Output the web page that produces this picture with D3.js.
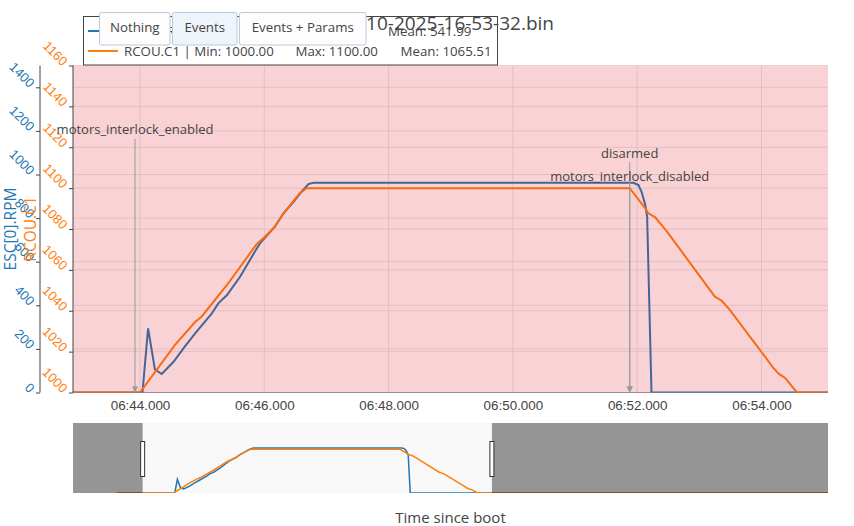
<!DOCTYPE html>
<html><head><meta charset="utf-8">
<script src="https://cdn.jsdelivr.net/npm/d3@7"></script>
<style>body{margin:0;background:#fff}svg{display:block;font-family:"Open Sans",verdana,arial,sans-serif}</style>
</head><body><svg id="c" width="854" height="526"></svg>
<script>
// ---- data (time since boot in seconds) ----
const escTime = [402.02, 404.04, 404.13, 404.24, 404.35, 404.54, 404.72, 404.91, 405.15, 405.26, 405.40, 405.61, 405.80, 405.93, 406.17, 406.31, 406.47, 406.60, 406.71, 406.79, 411.94, 412.02, 412.07, 412.13, 412.16, 412.23, 426.76];
const escRpm  = [0, 0, 294, 106, 85, 141, 210, 279, 360, 409, 447, 531, 623, 684, 761, 822, 875, 921, 956, 962, 962, 952, 921, 860, 806, 0, 0];
const rcouTime = [402.02, 404.00, 404.56, 404.89, 404.99, 405.40, 405.88, 405.98, 406.17, 406.31, 406.57, 406.68, 411.88, 412.13, 412.18, 412.29, 412.48, 413.25, 413.36, 413.49, 414.06, 414.19, 414.28, 414.38, 414.57, 426.76];
const rcouVal  = [1000, 1000, 1023.2, 1034.6, 1037.1, 1052.6, 1072.7, 1075.4, 1081.1, 1087.7, 1097.5, 1100, 1100, 1090.1, 1087.7, 1085.7, 1078.7, 1046.9, 1044.9, 1040.4, 1017.4, 1012.0, 1009.1, 1007.1, 1000, 1000];
const xTicks = [404, 406, 408, 410, 412, 414];
const rpmTicks = [0, 200, 400, 600, 800, 1000, 1200, 1400];
const rcouTicks = [1000, 1020, 1040, 1060, 1080, 1100, 1120, 1140, 1160];
const eventTimes = [403.92, 411.88, 411.88];
const eventLabels = ["motors_interlock_enabled", "disarmed", "motors_interlock_disabled"];
const legendNames = ["ESC[0].RPM", "RCOU.C1"];
const legendMin = ["0.00", "1000.00"];
const legendMax = ["962.00", "1100.00"];
const legendMean = ["541.99", "1065.51"];
const buttonLabels = ["Nothing", "Events", "Events + Params"];
const titleText = "24-10-2025-16-53-32.bin";
const viewRange = [402.922, 415.07];
const fullRange = [400.5, 426.76];

// ---- layout ----
const svg = d3.select("#c");
const P = {l: 73, r: 828, t: 65.5, b: 392.5};
const S = {t: 423, b: 493};
const blue = "#1f77b4", orange = "#ff7f0e";

const x = d3.scaleLinear().domain(viewRange).range([P.l, P.r]);
const yR = d3.scaleLinear().domain([0, 1500]).range([P.b, P.t]);
const yC = d3.scaleLinear().domain([1000, 1160]).range([P.b, P.t]);
const fmt = t => { const m = Math.floor(t/60); const s = t - m*60; return String(m).padStart(2,"0") + ":" + s.toFixed(3).padStart(6,"0"); };

svg.append("defs").append("clipPath").attr("id","pc").append("rect")
  .attr("x",P.l).attr("y",P.t).attr("width",P.r-P.l).attr("height",P.b-P.t);
svg.select("defs").append("clipPath").attr("id","sc").append("rect")
  .attr("x",P.l).attr("y",S.t).attr("width",P.r-P.l).attr("height",S.b-S.t);

// grid
const g = svg.append("g");
g.selectAll(".vx").data(xTicks).join("line").attr("x1",d=>x(d)).attr("x2",d=>x(d))
  .attr("y1",P.t).attr("y2",P.b).attr("stroke","#e6e6e6");
g.selectAll(".hr").data(rpmTicks).join("line").attr("x1",P.l).attr("x2",P.r)
  .attr("y1",d=>yR(d)).attr("y2",d=>yR(d)).attr("stroke","#e6e6e6");
g.selectAll(".hc").data(rcouTicks).join("line").attr("x1",P.l).attr("x2",P.r)
  .attr("y1",d=>yC(d)).attr("y2",d=>yC(d)).attr("stroke","#e6e6e6");
g.append("line").attr("x1",P.l).attr("x2",P.r).attr("y1",P.b).attr("y2",P.b).attr("stroke","#999");

// traces
const escData = escTime.map((t,i)=>[t, escRpm[i]]);
const rcouData = rcouTime.map((t,i)=>[t, rcouVal[i]]);
const tr = svg.append("g").attr("clip-path","url(#pc)");
tr.append("path").datum(escData).attr("fill","none").attr("stroke",blue).attr("stroke-width",2)
  .attr("d", d3.line().x(d=>x(d[0])).y(d=>yR(d[1])));
tr.append("path").datum(rcouData).attr("fill","none").attr("stroke",orange).attr("stroke-width",2)
  .attr("d", d3.line().x(d=>x(d[0])).y(d=>yC(d[1])));

// mode shading overlay
svg.append("rect").attr("x",P.l).attr("y",P.t).attr("width",P.r-P.l).attr("height",P.b-P.t)
  .attr("fill","rgb(220,30,40)").attr("fill-opacity",0.2);

// x axis
const xa = svg.append("g").attr("transform",`translate(0,${P.b})`)
  .call(d3.axisBottom(x).tickValues(xTicks).tickFormat(fmt).tickSize(0).tickPadding(5));
xa.select(".domain").remove();
xa.selectAll("text").attr("fill","#444").style("font-size","13.4px").attr("dy","0.9em");

// y axes
function yAxis(scale, ticks, xpos, color){
  const a = svg.append("g").attr("transform",`translate(${xpos},0)`)
    .call(d3.axisLeft(scale).tickValues(ticks).tickFormat(d3.format("d")).tickSize(4));
  a.select(".domain").attr("stroke","#444").attr("d",`M0,${P.t}V${P.b}`);
  a.selectAll(".tick line").attr("stroke","#444");
  a.selectAll("text").attr("x",null).attr("dy",null).attr("fill",color)
    .style("font-size","13px").attr("text-anchor","end")
    .attr("transform","translate(-11,0.5) rotate(45)");
}
yAxis(yR, rpmTicks, 40, blue);
yAxis(yC, rcouTicks, P.l, orange);

// axis titles
svg.append("text").attr("transform",`translate(15.5,${(P.t+P.b)/2}) rotate(-90)`)
  .attr("text-anchor","middle").attr("fill",blue).style("font-size","15.5px").text(legendNames[0]);
svg.append("text").attr("transform",`translate(36,${(P.t+P.b)/2}) rotate(-90)`)
  .attr("text-anchor","middle").attr("fill",orange).style("font-size","15.5px").text(legendNames[1]);
svg.append("text").attr("x",(P.l+P.r)/2).attr("y",523).attr("text-anchor","middle")
  .attr("fill","#444").style("font-size","15px").text("Time since boot");

// annotations
const annTextY = [134, 158, 181];
const annLineTop = [139, 162, 186];
const an = svg.append("g");
eventTimes.forEach((t,i)=>{
  const ex = x(t);
  an.append("line").attr("x1",ex).attr("x2",ex).attr("y1",annLineTop[i]).attr("y2",P.b-3)
    .attr("stroke","#999").attr("stroke-width",1);
  an.append("path").attr("d",`M${ex-3},${P.b-6}L${ex+3},${P.b-6}L${ex},${P.b}Z`).attr("fill","#999");
  an.append("text").attr("x",ex).attr("y",annTextY[i]).attr("text-anchor","middle")
    .attr("fill","#444").style("font-size","13px").text(eventLabels[i]);
});

// range slider
const xs = d3.scaleLinear().domain(fullRange).range([P.l, P.r]);
const ysR = d3.scaleLinear().domain([0, 1500]).range([S.b, S.t]);
const ysC = d3.scaleLinear().domain([1000, 1160]).range([S.b, S.t]);
svg.append("rect").attr("x",P.l).attr("y",S.t).attr("width",P.r-P.l).attr("height",S.b-S.t).attr("fill","#f8f8f8");
const sl = svg.append("g").attr("clip-path","url(#sc)");
sl.append("path").datum(escData).attr("fill","none").attr("stroke",blue).attr("stroke-width",1.5)
  .attr("d", d3.line().x(d=>xs(d[0])).y(d=>ysR(d[1])));
sl.append("path").datum(rcouData).attr("fill","none").attr("stroke",orange).attr("stroke-width",1.5)
  .attr("d", d3.line().x(d=>xs(d[0])).y(d=>ysC(d[1])));
const m0 = xs(viewRange[0]), m1 = xs(viewRange[1]);
svg.append("rect").attr("x",P.l).attr("y",S.t).attr("width",m0-P.l).attr("height",S.b-S.t).attr("fill","rgba(0,0,0,0.4)");
svg.append("rect").attr("x",m1).attr("y",S.t).attr("width",P.r-m1).attr("height",S.b-S.t).attr("fill","rgba(0,0,0,0.4)");
[m0, m1].forEach(mx=>{
  svg.append("rect").attr("x",mx-2).attr("y",441.5).attr("width",4).attr("height",35)
    .attr("fill","#fff").attr("stroke","#333").attr("stroke-width",1);
});

// legend
const lg = svg.append("g");
lg.append("rect").attr("x",83.5).attr("y",16.5).attr("width",414).attr("height",48.5)
  .attr("fill","#fff").attr("stroke","#444").attr("stroke-width",1);
const lineY = [31, 51], textY = [35.5, 55.5], meanX = [388, 400.5];
[blue, orange].forEach((c,i)=>{
  lg.append("line").attr("x1",88).attr("x2",118).attr("y1",lineY[i]).attr("y2",lineY[i]).attr("stroke",c).attr("stroke-width",2);
  lg.append("text").attr("x",124).attr("y",textY[i]).attr("fill","#444").style("font-size","13.3px")
    .text(`${legendNames[i]} | Min: ${legendMin[i]}`);
  lg.append("text").attr("x",i===0 ? 290 : 295.5).attr("y",textY[i]).attr("fill","#444").style("font-size","13.3px")
    .text(`Max: ${legendMax[i]}`);
  lg.append("text").attr("x",meanX[i]).attr("y",textY[i]).attr("fill","#444").style("font-size","13.3px")
    .text(`Mean: ${legendMean[i]}`);
});

// title
svg.append("text").attr("x",554).attr("y",30).attr("text-anchor","end").attr("fill","#444")
  .style("font-size","19px").text(titleText);

// buttons
const bx = [[99.5,170],[172.5,237],[239.5,366]];
const bt = svg.append("g");
buttonLabels.forEach((b,i)=>{
  bt.append("rect").attr("x",bx[i][0]).attr("y",12.5).attr("width",bx[i][1]-bx[i][0]).attr("height",32.5)
    .attr("rx",2).attr("fill", i===1 ? "#eef4fc" : "#fdfdfd").attr("stroke","#bec8d9").attr("stroke-width",1);
  bt.append("text").attr("x",(bx[i][0]+bx[i][1])/2).attr("y",32).attr("text-anchor","middle")
    .attr("fill","#444").style("font-size","13.3px").text(b);
});
</script></body></html>
